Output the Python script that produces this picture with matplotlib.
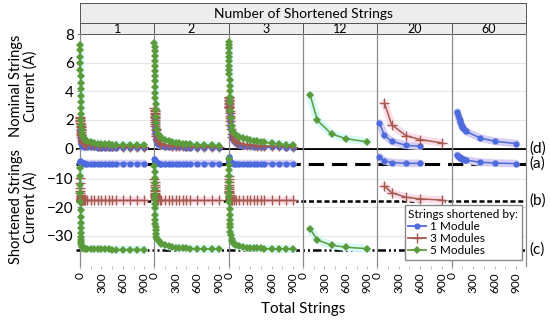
import numpy as np
import matplotlib.pyplot as plt
from matplotlib.lines import Line2D
import matplotlib.transforms as mtransforms

plt.rcParams['font.family'] = ['Lato', 'DejaVu Sans']

# total strings used in the 1 / 2 / 3 shortened-string panels
x_few = [2, 3, 4, 5, 6, 7, 8, 9, 10, 12, 14, 16, 18, 20, 25, 30, 40, 50, 75, 100,
         150, 200, 250, 300, 350, 400, 450, 500, 600, 700, 800, 900]

# nominal strings current (A)
nom_1_blue = [1.3, 1.23, 1.16, 1.09, 1.02, 0.95, 0.88, 0.81, 0.74, 0.65, 0.56, 0.48, 0.4, 0.33, 0.26, 0.21,
              0.17, 0.14, 0.12, 0.1, 0.09, 0.08, 0.07, 0.07, 0.06, 0.06, 0.06, 0.05, 0.05, 0.05, 0.05, 0.04]
nom_1_brown = [2.2, 2.1, 2.0, 1.9, 1.8, 1.7, 1.6, 1.5, 1.4, 1.28, 1.16, 1.04, 0.92, 0.8, 0.66, 0.55,
               0.45, 0.39, 0.33, 0.29, 0.25, 0.22, 0.2, 0.19, 0.18, 0.17, 0.16, 0.15, 0.14, 0.14, 0.13, 0.13]
nom_1_green = [7.25, 6.85, 6.4, 5.95, 5.5, 5.05, 4.6, 4.15, 3.7, 3.25, 2.8, 2.4, 2.0, 1.65, 1.3, 1.05,
               0.85, 0.72, 0.6, 0.52, 0.44, 0.39, 0.35, 0.33, 0.31, 0.29, 0.28, 0.27, 0.25, 0.24, 0.23, 0.22]
nom_2_blue = [2.3, 2.2, 2.1, 2.0, 1.9, 1.8, 1.7, 1.6, 1.5, 1.38, 1.25, 1.12, 1.0, 0.9, 0.72, 0.58,
              0.42, 0.33, 0.23, 0.18, 0.14, 0.12, 0.1, 0.09, 0.08, 0.08, 0.07, 0.07, 0.06, 0.06, 0.05, 0.05]
nom_2_brown = [2.8, 2.7, 2.6, 2.5, 2.4, 2.3, 2.2, 2.1, 2.0, 1.85, 1.7, 1.55, 1.4, 1.28, 1.05, 0.88,
               0.68, 0.55, 0.4, 0.33, 0.27, 0.23, 0.21, 0.19, 0.18, 0.17, 0.16, 0.15, 0.14, 0.13, 0.13, 0.12]
nom_2_green = [7.35, 7.1, 6.8, 6.45, 6.1, 5.75, 5.4, 5.05, 4.7, 4.3, 3.9, 3.5, 3.1, 2.7, 2.2, 1.8,
               1.35, 1.05, 0.85, 0.72, 0.58, 0.5, 0.44, 0.4, 0.36, 0.33, 0.31, 0.29, 0.26, 0.24, 0.22, 0.2]
nom_3_blue = [3.4, 3.3, 3.2, 3.1, 3.0, 2.9, 2.8, 2.7, 2.6, 2.45, 2.3, 2.15, 2.0, 1.85, 1.55, 1.3,
              0.95, 0.75, 0.5, 0.38, 0.27, 0.21, 0.17, 0.15, 0.13, 0.12, 0.11, 0.1, 0.09, 0.08, 0.07, 0.07]
nom_3_brown = [3.6, 3.5, 3.4, 3.3, 3.2, 3.1, 3.0, 2.9, 2.8, 2.62, 2.45, 2.28, 2.1, 1.95, 1.65, 1.4,
               1.05, 0.82, 0.6, 0.48, 0.38, 0.32, 0.28, 0.25, 0.23, 0.21, 0.2, 0.19, 0.17, 0.16, 0.15, 0.14]
nom_3_green = [7.45, 7.25, 7.0, 6.7, 6.4, 6.1, 5.8, 5.5, 5.2, 4.8, 4.4, 4.0, 3.6, 3.25, 2.6, 2.1,
               1.6, 1.3, 1.1, 0.95, 0.82, 0.74, 0.66, 0.6, 0.55, 0.5, 0.46, 0.43, 0.37, 0.32, 0.27, 0.22]

# shortened strings current (A)
sh_1_blue = [-3.6, -3.9, -4.1, -4.2, -4.3, -4.35, -4.4, -4.4, -4.45, -4.45, -4.5, -4.5, -4.5, -4.5, -4.5, -4.5,
             -4.5, -4.5, -4.55, -4.55, -4.55, -4.55, -4.55, -4.55, -4.55, -4.55, -4.55, -4.55, -4.55, -4.55, -4.55, -4.55]
sh_1_brown = [-9.5, -11.5, -13.0, -14.2, -15.0, -15.6, -16.0, -16.4, -16.7, -16.9, -17.1, -17.2, -17.3, -17.35, -17.4, -17.45,
              -17.5, -17.5, -17.5, -17.55, -17.55, -17.55, -17.55, -17.55, -17.55, -17.55, -17.55, -17.55, -17.55, -17.55, -17.55, -17.55]
sh_1_green = [-6.0, -9.0, -12.0, -15.0, -18.0, -21.0, -23.5, -25.5, -27.3, -29.0, -30.5, -31.5, -32.3, -32.9, -33.5, -33.8,
              -34.1, -34.3, -34.5, -34.6, -34.65, -34.7, -34.7, -34.75, -34.75, -34.75, -34.8, -34.8, -34.8, -34.8, -34.8, -34.8]
sh_2_blue = [-3.0, -3.3, -3.55, -3.75, -3.9, -4.0, -4.1, -4.15, -4.2, -4.3, -4.35, -4.4, -4.4, -4.45, -4.45, -4.5,
             -4.5, -4.5, -4.55, -4.55, -4.55, -4.55, -4.55, -4.55, -4.55, -4.55, -4.55, -4.55, -4.55, -4.55, -4.55, -4.55]
sh_2_brown = [-10.0, -11.0, -12.0, -12.9, -13.7, -14.3, -14.8, -15.2, -15.6, -16.1, -16.5, -16.8, -17.0, -17.1, -17.3, -17.4,
              -17.45, -17.5, -17.5, -17.55, -17.55, -17.55, -17.55, -17.55, -17.55, -17.55, -17.55, -17.55, -17.55, -17.55, -17.55, -17.55]
sh_2_green = [-5.5, -7.5, -9.5, -11.5, -13.5, -15.5, -17.2, -18.8, -20.3, -22.5, -24.3, -25.8, -27.0, -28.0, -29.5, -30.3,
              -31.0, -31.4, -32.2, -32.7, -33.3, -33.7, -33.9, -34.1, -34.2, -34.3, -34.4, -34.45, -34.55, -34.6, -34.65, -34.7]
sh_3_blue = [-2.2, -2.6, -3.0, -3.3, -3.5, -3.7, -3.85, -3.95, -4.05, -4.15, -4.25, -4.3, -4.35, -4.4, -4.45, -4.45,
             -4.5, -4.5, -4.55, -4.55, -4.55, -4.55, -4.55, -4.55, -4.55, -4.55, -4.55, -4.55, -4.55, -4.55, -4.55, -4.55]
sh_3_brown = [-9.0, -10.0, -11.0, -12.0, -12.8, -13.5, -14.1, -14.6, -15.0, -15.7, -16.2, -16.5, -16.8, -17.0, -17.2, -17.3,
              -17.4, -17.45, -17.5, -17.5, -17.55, -17.55, -17.55, -17.55, -17.55, -17.55, -17.55, -17.55, -17.55, -17.55, -17.55, -17.55]
sh_3_green = [-3.0, -5.0, -7.0, -9.0, -11.0, -13.0, -14.8, -16.5, -18.0, -20.5, -22.6, -24.3, -25.7, -26.8, -28.6, -29.8,
              -31.0, -31.8, -32.7, -33.2, -33.7, -34.0, -34.1, -34.2, -34.3, -34.35, -34.4, -34.45, -34.55, -34.6, -34.65, -34.7]

# 12 shortened strings
x_12_green = [100, 200, 400, 600, 900]
nom_12_green = [3.75, 1.97, 1.02, 0.69, 0.47]
sh_12_green = [-27.6, -31.4, -33.3, -34.0, -34.5]

# 20 shortened strings
x_20_blue = [30, 100, 200, 400, 600]
nom_20_blue = [1.78, 0.92, 0.51, 0.23, 0.16]
sh_20_blue = [-2.2, -3.6, -4.2, -4.5, -4.5]
x_20_brown = [100, 200, 400, 600, 900]
nom_20_brown = [3.17, 1.67, 0.9, 0.63, 0.4]
sh_20_brown = [-12.5, -14.8, -16.4, -17.0, -17.4]

# 60 shortened strings
x_60_blue = [80, 90, 100, 110, 120, 130, 140, 150, 160, 180, 200, 400, 600, 900]
nom_60_blue = [2.55, 2.35, 2.15, 2.0, 1.85, 1.72, 1.6, 1.5, 1.42, 1.3, 1.2, 0.74, 0.51, 0.35]
sh_60_blue = [-1.6, -1.9, -2.15, -2.4, -2.6, -2.75, -2.9, -3.0, -3.1, -3.25, -3.35, -4.1, -4.4, -4.6]

col_labels = ['1', '2', '3', '12', '20', '60']
ref_values = {'(d)': 0.0, '(a)': -4.7, '(b)': -17.7, '(c)': -34.9}
legend_labels = ['1 Module', '3 Modules', '5 Modules']

styles = {
    'blue': dict(color='#4D6BDC', marker='o', ms=4.5, mew=0, ribbon='#D4CEF6'),
    'brown': dict(color='#A65A4E', marker='+', ms=7, mew=1.0, ribbon='#FCDDE9'),
    'green': dict(color='#5C9B3B', marker='D', ms=4, mew=0, ribbon='#D3FAF5'),
}

panels = {
    '1': [('blue', x_few, nom_1_blue, sh_1_blue), ('brown', x_few, nom_1_brown, sh_1_brown),
          ('green', x_few, nom_1_green, sh_1_green)],
    '2': [('blue', x_few, nom_2_blue, sh_2_blue), ('brown', x_few, nom_2_brown, sh_2_brown),
          ('green', x_few, nom_2_green, sh_2_green)],
    '3': [('blue', x_few, nom_3_blue, sh_3_blue), ('brown', x_few, nom_3_brown, sh_3_brown),
          ('green', x_few, nom_3_green, sh_3_green)],
    '12': [('green', x_12_green, nom_12_green, sh_12_green)],
    '20': [('blue', x_20_blue, nom_20_blue, sh_20_blue), ('brown', x_20_brown, nom_20_brown, sh_20_brown)],
    '60': [('blue', x_60_blue, nom_60_blue, sh_60_blue)],
}

W, H = 550, 321
fig = plt.figure(figsize=(5.5, 3.21), dpi=100)


def frac(x0, y0, w, h):
    # pixel box (top-left origin) -> figure fraction rect
    return [x0 / W, 1 - (y0 + h) / H, w / W, h / H]


left, right = 80, 526
colw = (right - left) / 6
top_y, mid_y, bot_y = 34, 150, 266
ylim_top = (-0.1, 8.0)
ylim_bot = (-40.6, 0.2)
xlim = (0, 1040)
edge = '#8A8A8A'

# reference lines drawn in overlay axes behind the panels
over_top = fig.add_axes(frac(76, top_y, right - 76, mid_y - top_y), zorder=0)
over_bot = fig.add_axes(frac(76, mid_y, right - 76, bot_y - mid_y), zorder=0)
for ov, yl in ((over_top, ylim_top), (over_bot, ylim_bot)):
    ov.set_ylim(yl)
    ov.set_xlim(0, 1)
    ov.axis('off')
over_top.axhline(ref_values['(d)'], color='black', lw=2)
over_bot.axhline(ref_values['(a)'], color='black', lw=2.2, ls=(0, (5.0, 2.6)))
over_bot.axhline(ref_values['(b)'], color='black', lw=1.8, ls=(0, (2.0, 1.1)))
over_bot.axhline(ref_values['(c)'], color='black', lw=1.8, ls=(0, (3.4, 1.2, 0.8, 1.2, 0.8, 1.2)))
for lab, val in ref_values.items():
    ov = over_top if lab == '(d)' else over_bot
    tr = mtransforms.blended_transform_factory(ov.transAxes, ov.transData)
    ov.text(1.008, val, lab, transform=tr, ha='left', va='center', fontsize=11, clip_on=False)

for j, lab in enumerate(col_labels):
    x0 = left + j * colw
    ax_t = fig.add_axes(frac(x0, top_y, colw, mid_y - top_y), zorder=1)
    ax_b = fig.add_axes(frac(x0, mid_y, colw, bot_y - mid_y), zorder=1)
    for ax, yl, grid_vals in ((ax_t, ylim_top, [2, 4, 6]), (ax_b, ylim_bot, [-10, -20, -30])):
        ax.set_facecolor('none')
        ax.set_xlim(xlim)
        ax.set_ylim(yl)
        for g in grid_vals:
            ax.axhline(g, color='#E6E6E6', lw=0.8, zorder=0)
        for s in ('top', 'bottom', 'right'):
            ax.spines[s].set_visible(False)
        ax.spines['left'].set_color(edge)
        ax.spines['left'].set_linewidth(0.9)
        if j == 5:
            ax.spines['right'].set_visible(True)
            ax.spines['right'].set_color(edge)
            ax.spines['right'].set_linewidth(0.9)
        ax.tick_params(axis='y', length=2.5, color=edge, labelsize=11, pad=2)
        if j > 0:
            ax.tick_params(axis='y', left=False, labelleft=False)

    ax_t.set_yticks([0, 2, 4, 6, 8])
    ax_b.set_yticks([-10, -20, -30])
    ax_t.tick_params(axis='x', bottom=False, labelbottom=False)
    ax_b.set_xticks([0, 300, 600, 900])
    ax_b.set_xticks([150, 450, 750], minor=True)
    ax_b.tick_params(axis='x', which='both', length=2.5, color='#BBBBBB', labelsize=8.5,
                     labelrotation=90, pad=2)

    for key, xs, yn, ys in panels[lab]:
        st = styles[key]
        for ax, ys_ in ((ax_t, yn), (ax_b, ys)):
            ax.plot(xs, ys_, color=st['ribbon'], lw=5.5, solid_capstyle='round',
                    solid_joinstyle='round', zorder=2)
            ax.plot(xs, ys_, color=st['color'], lw=1.1, marker=st['marker'],
                    ms=st['ms'], mew=st['mew'], zorder=3, clip_on=False)

    # column strip
    sa = fig.add_axes(frac(x0, 23, colw, 11))
    sa.set_facecolor('#EDEDED')
    sa.set_xticks([])
    sa.set_yticks([])
    for s in sa.spines.values():
        s.set_color('#555555')
        s.set_linewidth(0.7)
    sa.text(0.5, 0.45, lab, ha='center', va='center', fontsize=9, transform=sa.transAxes)

# top strip
st_ax = fig.add_axes(frac(left, 3, right - left, 20))
st_ax.set_facecolor('#EDEDED')
st_ax.set_xticks([])
st_ax.set_yticks([])
for s in st_ax.spines.values():
    s.set_color('#555555')
    s.set_linewidth(0.7)
st_ax.text(0.5, 0.45, 'Number of Shortened Strings', ha='center', va='center', fontsize=10,
           transform=st_ax.transAxes)

fig.text(23 / W, 1 - 86 / H, 'Nominal Strings\nCurrent (A)', rotation=90, ha='center', va='center',
         fontsize=10.5, linespacing=1.05)
fig.text(23 / W, 1 - 207 / H, 'Shortened Strings\nCurrent (A)', rotation=90, ha='center', va='center',
         fontsize=10.5, linespacing=1.05)
fig.text(303 / W, 1 - 309 / H, 'Total Strings', ha='center', va='center', fontsize=11)

leg_handles = [Line2D([], [], color=styles[k]['color'], marker=styles[k]['marker'], ms=styles[k]['ms'],
                      mew=styles[k]['mew'], lw=1.3) for k in ('blue', 'brown', 'green')]
leg = fig.legend(leg_handles, legend_labels, title='Strings shortened by:', loc='lower right',
                 bbox_to_anchor=(522 / W, 61 / H), fontsize=8.5, title_fontsize=8.5, frameon=True,
                 fancybox=False, edgecolor='#888888', framealpha=1, handlelength=1.5,
                 handletextpad=0.3, labelspacing=0.1, borderpad=0.3, borderaxespad=0)
leg.set_zorder(5)
leg._legend_box.align = 'left'

fig.savefig('out.png', dpi=100)
